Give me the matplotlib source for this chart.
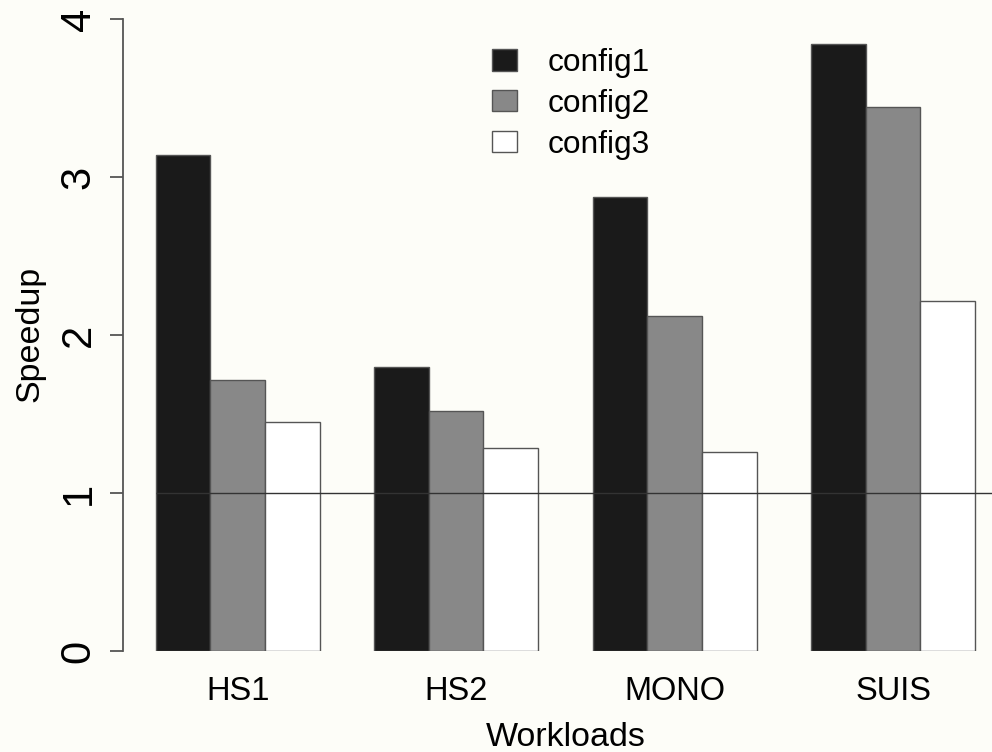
import matplotlib
matplotlib.use('Agg')
import matplotlib.pyplot as plt
from matplotlib.patches import Patch

plt.rcParams['font.family'] = ['Liberation Sans', 'DejaVu Sans']

# data
workloads = ['HS1', 'HS2', 'MONO', 'SUIS']
configs = ['config1', 'config2', 'config3']
config1 = [3.14, 1.80, 2.875, 3.84]
config2 = [1.715, 1.52, 2.12, 3.44]
config3 = [1.447, 1.287, 1.26, 2.217]
colors = ['#1a1a1a', '#888888', '#ffffff']
bg = '#fdfdf8'

W, H = 992, 752
fig = plt.figure(figsize=(W / 100, H / 100), dpi=100, facecolor=bg)
# axes area in pixels: left 123, bottom 651, top 19, right edge of image
ax = fig.add_axes([123 / W, (H - 651) / H, (W - 123) / W, (651 - 19) / H])
ax.set_facecolor(bg)

series = [config1, config2, config3]
for i, (vals, col) in enumerate(zip(series, colors)):
    xs = [1 + 4 * g + i for g in range(len(workloads))]
    ax.bar(xs, vals, width=1, align='edge', color=col, edgecolor='#555555',
           linewidth=1.0, label=configs[i], zorder=2)

ax.set_xlim(0.4, 1 + (W - 156) / 54.6)
ax.set_ylim(0, 4)
ax.hlines(1, 1, 20, color='#333333', linewidth=1.0, zorder=3)

for s in ['top', 'right', 'bottom']:
    ax.spines[s].set_visible(False)
ax.spines['left'].set_bounds(0, 4)
ax.spines['left'].set_color('#555555')
ax.spines['left'].set_linewidth(1.3)

ax.set_yticks([0, 1, 2, 3, 4])
ax.set_yticklabels(['0', '1', '2', '3', '4'], rotation=90, va='center',
                   fontsize=30)
ax.tick_params(axis='y', length=9.5, width=1.3, color='#555555', pad=8)

centers = [2.5 + 4 * g for g in range(len(workloads))]
ax.set_xticks(centers)
ax.set_xticklabels(workloads, fontsize=23.5)
ax.tick_params(axis='x', length=0, pad=18)

fig.text(30 / W, 1 - 334 / H, 'Speedup', rotation=90, fontsize=24.5,
         ha='center', va='center')
fig.text(566 / W, 1 - 737 / H, 'Workloads', fontsize=24.5,
         ha='center', va='center')

handles = [Patch(facecolor=c, edgecolor='#555555', linewidth=1.0) for c in colors]
ax.legend(handles, configs, loc='upper left', frameon=False, fontsize=22.8,
          bbox_to_anchor=(492 / W, 1 - 48 / H), bbox_transform=fig.transFigure,
          borderpad=0, borderaxespad=0, handlelength=0.79, handleheight=0.66,
          handletextpad=0.98, labelspacing=0.34)

fig.savefig('out.png', dpi=100, facecolor=bg)
